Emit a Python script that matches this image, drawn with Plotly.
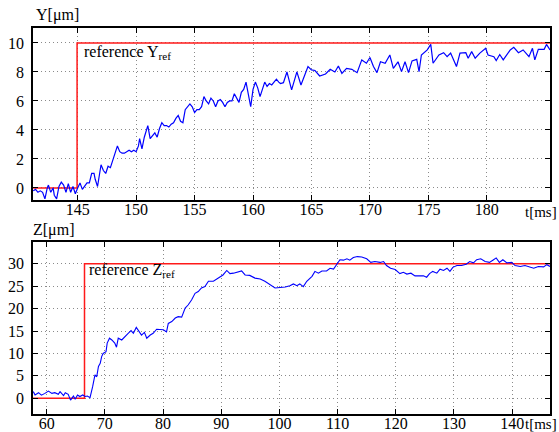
import plotly.graph_objects as go

# ---------------- data: top panel (Y) ----------------
t_y = [141.2, 141.4, 141.6, 141.8, 142.0, 142.2, 142.4, 142.5, 142.7, 142.9,
       143.0, 143.2, 143.4, 143.6, 143.8, 144.0, 144.2, 144.4, 144.6, 144.8,
       145.0, 145.2, 145.4, 145.6, 145.8, 146.0, 146.2, 146.4, 146.5, 146.7,
       146.9, 147.0, 147.2, 147.4, 147.6, 147.8, 148.0, 148.2, 148.4, 148.6,
       148.8, 149.0, 149.2, 149.4, 149.6, 149.8, 150.0, 150.2, 150.3, 150.5,
       150.7, 151.0, 151.2, 151.4, 151.6, 151.8, 152.0, 152.2, 152.4, 152.6,
       152.8, 153.0, 153.2, 153.4, 153.6, 153.8, 154.0, 154.2, 154.4, 154.6,
       154.8, 155.0, 155.2, 155.4, 155.6, 155.8, 156.0, 156.2, 156.4, 156.6,
       156.8, 157.0, 157.2, 157.4, 157.6, 157.8, 158.0, 158.2, 158.4, 158.6,
       158.8, 159.0, 159.2, 159.4, 159.6, 159.8, 160.0, 160.2, 160.4, 160.6,
       160.8, 161.0, 161.2, 161.4, 161.6, 161.8, 162.0, 162.2, 162.35,
       162.6, 162.9, 163.3, 163.75, 164.1, 164.5, 164.7, 165.0, 165.3, 165.7,
       166.2, 166.6, 167.0, 167.3, 167.6, 168.0, 168.45, 168.9, 169.3, 169.7,
       170.0, 170.3, 170.6, 170.9, 171.3, 171.7, 172.0, 172.4, 172.7, 173.0,
       173.3, 173.6, 174.0, 174.2, 174.4, 174.9, 175.2, 175.4, 175.9, 176.3,
       176.6, 176.9, 177.2, 177.4, 177.7, 178.2, 178.4, 178.7, 179.0, 179.4,
       179.9, 180.1, 180.6, 180.8, 181.1, 181.4, 182.0, 182.3, 182.7, 183.1,
       183.6, 183.9, 184.1, 184.4, 184.9, 185.1, 185.4]
y_meas = [-0.2, -0.1, -0.3, -0.2, -0.3, -0.75, 0.0, 0.2, -0.3, 0.0,
          -0.5, -0.75, 0.1, 0.4, 0.2, -0.3, 0.3, -0.3, 0.1, -0.4,
          0.0, 0.35, -0.1, 0.1, 0.35, 0.35, 1.0, 1.0, 0.6, 0.1,
          1.1, 1.6, 1.2, 1.0, 1.5, 1.4, 1.9, 2.4, 2.9, 2.5,
          2.4, 2.4, 2.5, 2.6, 2.5, 2.6, 2.5, 2.9, 3.4, 2.7,
          3.5, 4.3, 3.4, 3.6, 3.8, 3.5, 4.1, 4.5, 4.3, 4.3,
          4.2, 4.4, 4.5, 4.8, 5.0, 4.6, 4.5, 5.4, 5.6, 5.8,
          5.6, 5.2, 5.4, 5.4, 5.6, 6.3, 6.0, 5.8, 6.2, 6.0,
          5.6, 6.0, 6.1, 5.9, 5.6, 5.9, 6.0, 6.0, 6.5, 6.2,
          5.9, 6.6, 6.8, 7.3, 6.5, 5.6, 6.8, 7.3, 6.9, 6.3,
          6.8, 7.3, 7.0, 7.2, 7.1, 7.3, 7.5, 7.3, 7.2,
          7.26, 8.0, 6.76, 8.0, 7.1, 7.86, 8.37, 8.14, 8.1, 7.72,
          7.86, 8.18, 8.0, 8.41, 7.9, 8.25, 8.18, 7.95, 8.83, 8.6,
          9.0, 8.37, 7.95, 8.7, 8.6, 9.17, 8.25, 8.7, 8.02, 8.7,
          7.95, 8.76, 8.87, 8.02, 9.17, 9.52, 9.9, 8.6, 9.17, 9.33,
          9.05, 9.3, 8.7, 8.37, 9.3, 9.33, 8.95, 9.4, 8.95, 9.3,
          9.63, 9.17, 9.05, 8.78, 9.2, 8.83, 9.52, 9.7, 9.33, 9.52,
          9.05, 9.63, 8.83, 9.56, 9.56, 9.9, 9.52]
t_yref = [141.2, 144.95, 144.95, 185.4]
y_ref = [0, 0, 10, 10]

# ---------------- data: bottom panel (Z) ----------------
t_z = [57.7, 58.0, 58.6, 59.1, 59.7, 60.3, 60.9, 61.4, 62.0, 62.3,
       62.9, 63.2, 63.7, 64.1, 64.6, 64.9, 65.3, 65.7, 66.2, 66.6,
       67.0, 67.45, 67.9, 68.3, 68.6, 68.9, 69.2, 69.45, 69.7, 70.2,
       70.4, 70.8, 71.2, 71.7, 72.0, 72.3, 72.9, 73.5, 74.0, 74.5,
       74.9, 75.4, 75.9, 76.3, 76.8, 77.2, 77.8, 78.3, 78.9, 79.5,
       80.05, 80.6, 80.9, 81.5, 82.1, 82.6, 83.2, 83.8, 84.3, 84.9,
       85.5, 86.05, 86.6, 87.2, 87.8, 88.65, 89.5, 90.3, 90.95, 91.5,
       92.1, 92.8, 93.5, 94.1, 94.9, 95.8, 96.7, 97.5, 98.4, 99.25,
       100.1, 101.0, 101.8, 102.4, 103.0, 103.5, 104.1, 104.7, 105.6, 106.1,
       106.7, 107.3, 108.1, 108.7, 109.3, 109.85, 110.4, 111.0, 111.6, 112.1,
       112.7, 113.4, 114.15, 115.0, 115.7, 116.4, 117.3, 117.9, 118.4, 119.1,
       119.9, 120.7, 121.3, 121.9, 122.6, 123.3, 124.2, 124.75, 125.3, 125.8,
       126.35, 127.05, 127.6, 128.2, 128.8, 129.3, 129.8, 130.5, 131.3, 132.1,
       132.7, 133.35, 133.9, 134.6, 135.35, 136.1, 136.8, 137.25, 137.8, 138.4,
       139.1, 139.9, 140.5, 141.4, 142.2, 143.1, 143.7, 144.5, 145.4, 145.95,
       146.5]
z_meas = [1.5, 0.75, 1.25, 0.7, 1.1, 1.6, 1.1, 1.25, 0.9, 1.5,
          0.6, 1.25, 0.9, -0.4, 0.5, -0.2, 0.75, 0.4, 0.75, 0.4,
          0.5, 0.15, 2.6, 5.2, 4.8, 7.1, 7.8, 9.3, 10.0, 10.4,
          12.3, 13.4, 13.0, 12.3, 11.4, 13.4, 13.0, 13.9, 14.5, 15.1,
          14.5, 15.8, 14.7, 14.1, 14.7, 13.4, 14.1, 14.5, 15.4, 15.3,
          15.3, 14.8, 16.7, 17.1, 17.9, 18.2, 18.1, 20.1, 20.8, 21.9,
          23.4, 23.8, 24.6, 24.9, 26.1, 26.1, 26.8, 27.5, 28.5, 27.8,
          27.9, 28.1, 28.4, 27.5, 27.4, 26.8, 26.6, 26.1, 25.3, 24.6,
          24.7, 24.8, 25.1, 25.5, 25.1, 25.5, 24.9, 26.1, 27.2, 28.3,
          27.9, 28.4, 28.4, 29.0, 28.8, 30.0, 30.9, 30.8, 31.1, 30.8,
          31.4, 31.6, 31.5, 31.1, 30.3, 30.5, 30.3, 30.5, 29.6, 29.0,
          28.7, 27.8, 28.1, 27.7, 27.9, 27.3, 27.2, 27.3, 27.0, 27.8,
          28.3, 27.9, 28.8, 28.5, 29.0, 28.3, 29.2, 29.6, 29.6, 29.9,
          30.5, 30.2, 30.9, 31.1, 30.5, 30.3, 30.9, 31.3, 30.3, 30.9,
          30.2, 30.3, 29.6, 29.4, 29.6, 29.3, 29.0, 29.4, 29.3, 29.8,
          29.4]
t_zref = [57.6, 66.5, 66.5, 146.5]
z_ref = [0, 0, 30, 30]

y_ticks = [0, 2, 4, 6, 8, 10]
ty_ticks = [145, 150, 155, 160, 165, 170, 175, 180]
z_ticks = [0, 5, 10, 15, 20, 25, 30]
tz_ticks = [60, 70, 80, 90, 100, 110, 120, 130, 140]

FONT = "Liberation Serif"
FS = 16

fig = go.Figure()
fig.add_trace(go.Scatter(x=t_yref, y=y_ref, mode="lines",
                         line=dict(color="#ff1a1a", width=1.5),
                         xaxis="x", yaxis="y", showlegend=False))
fig.add_trace(go.Scatter(x=t_y, y=y_meas, mode="lines",
                         line=dict(color="#0000ff", width=1.2),
                         xaxis="x", yaxis="y", showlegend=False))
fig.add_trace(go.Scatter(x=t_zref, y=z_ref, mode="lines",
                         line=dict(color="#ff1a1a", width=1.5),
                         xaxis="x2", yaxis="y2", showlegend=False))
fig.add_trace(go.Scatter(x=t_z, y=z_meas, mode="lines",
                         line=dict(color="#0000ff", width=1.1),
                         xaxis="x2", yaxis="y2", showlegend=False))

axis_common = dict(
    showline=True, linecolor="black", linewidth=1.5, mirror="allticks",
    ticks="inside", ticklen=5, tickcolor="black", tickwidth=1,
    showgrid=True, gridcolor="#8a8a8a", griddash="1px,3px", gridwidth=1,
    zeroline=False, automargin=False,
    tickfont=dict(family=FONT, size=FS, color="black"),
)

fig.update_layout(
    width=559, height=432,
    margin=dict(l=33, r=9, t=28, b=18),
    paper_bgcolor="white", plot_bgcolor="white",
    font=dict(family=FONT, size=FS, color="black"),
    xaxis=dict(domain=[0, 1], anchor="y", range=[141.18, 185.4],
               tickvals=ty_ticks, ticklabelstandoff=-6, **axis_common),
    yaxis=dict(domain=[0.5544, 1.0], anchor="x", range=[-0.83, 11.03],
               tickvals=y_ticks, ticklabelstandoff=4, **axis_common),
    xaxis2=dict(domain=[0, 1], anchor="y2", range=[57.65, 146.5],
                tickvals=tz_ticks, ticklabelstandoff=-6, **axis_common),
    yaxis2=dict(domain=[0, 0.4456], anchor="x2", range=[-3.5, 34.85],
                tickvals=z_ticks, ticklabelstandoff=4, **axis_common),
    annotations=[
        dict(text="reference Y<sub>ref</sub>", x=145.35, y=9.35, xref="x", yref="y",
             xanchor="left", yanchor="middle", showarrow=False,
             font=dict(family=FONT, size=FS)),
        dict(text="reference Z<sub>ref</sub>", x=67.0, y=28.4, xref="x2", yref="y2",
             xanchor="left", yanchor="middle", showarrow=False,
             font=dict(family=FONT, size=FS)),
        dict(text="Y[μm]", x=0.002, y=1.033, xref="paper", yref="paper",
             xanchor="left", yanchor="middle", showarrow=False,
             font=dict(family=FONT, size=FS)),
        dict(text="Z[μm]", x=-0.004, y=0.476, xref="paper", yref="paper",
             xanchor="left", yanchor="middle", showarrow=False,
             font=dict(family=FONT, size=FS)),
        dict(text="t[ms]", x=1.017, y=0.523, xref="paper", yref="paper",
             xanchor="right", yanchor="middle", showarrow=False,
             font=dict(family=FONT, size=15)),
        dict(text="t[ms]", x=1.017, y=-0.026, xref="paper", yref="paper",
             xanchor="right", yanchor="middle", showarrow=False,
             font=dict(family=FONT, size=15)),
    ],
)

fig.write_html(
    "out.html",
    config={"displayModeBar": False},
    post_script="document.body.style.margin='0px';document.body.style.padding='0px';",
)
